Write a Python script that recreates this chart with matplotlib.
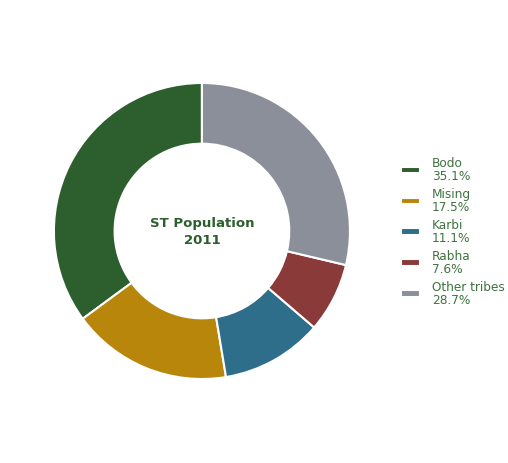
import matplotlib.pyplot as plt

# data
tribes = ["Bodo", "Mising", "Karbi", "Rabha", "Other tribes"]
shares = [35.1, 17.5, 11.1, 7.6, 28.7]
colors = ["#2d5e2d", "#b8860b", "#2e6e8a", "#8b3a3a", "#8a8f99"]
text_green = "#2d5e2d"

fig = plt.figure(figsize=(5.08, 4.64), dpi=100)
ax = fig.add_axes([0.106, 0.181, 0.583, 0.638])

wedges, _ = ax.pie(shares, colors=colors, startangle=90, counterclock=True,
                   radius=1.0,
                   wedgeprops=dict(width=0.41, edgecolor="white", linewidth=1.5))
ax.set_xlim(-1, 1)
ax.set_ylim(-1, 1)
ax.set_aspect("equal")
ax.axis("off")

ax.text(0, 0, "ST Population\n2011", ha="center", va="center",
        fontsize=9.5, fontweight="bold", color=text_green, linespacing=1.35)

labels = [f"{t}\n{s}%" for t, s in zip(tribes, shares)]
leg = fig.legend(wedges, labels, loc="center left", bbox_to_anchor=(0.767, 0.5),
                 frameon=False, fontsize=8.7, handlelength=1.6, handleheight=0.45,
                 labelspacing=0.4, handletextpad=1.0)
for t in leg.get_texts():
    t.set_color("#3f733f")
    t.set_linespacing(1.0)

fig.savefig("out.png", dpi=100)
